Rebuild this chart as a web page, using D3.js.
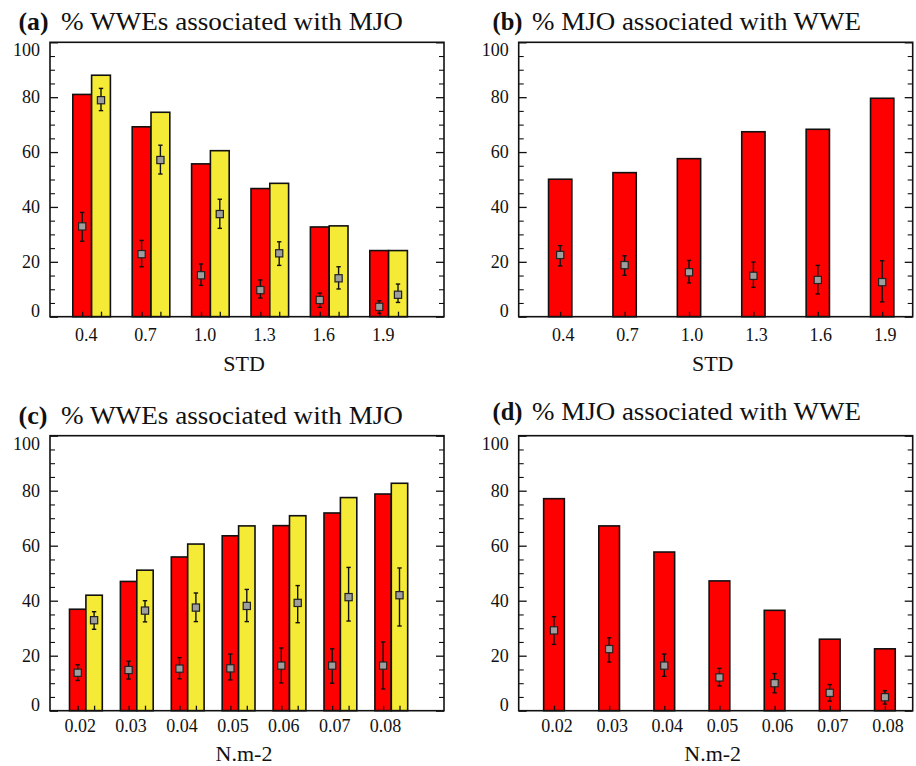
<!DOCTYPE html>
<html>
<head>
<meta charset="utf-8">
<script src="https://cdn.jsdelivr.net/npm/d3@7"></script>
<style>
  html, body { margin: 0; padding: 0; background: #fff; }
  svg { display: block; }
  svg text { font-family: 'Liberation Serif', 'Times New Roman', Times, serif; fill: #111; }
</style>
</head>
<body>
<svg id="chart" width="916" height="766"></svg>
<script>
// ---------------- DATA ----------------
const stdCats  = ["0.4", "0.7", "1.0", "1.3", "1.6", "1.9"];
const windCats = ["0.02", "0.03", "0.04", "0.05", "0.06", "0.07", "0.08"];
const yTickValues = [0, 20, 40, 60, 80, 100];

// (a) % WWEs associated with MJO vs STD
const aRed     = [81.0, 69.2, 55.7, 46.7, 32.7, 24.1];
const aYellow  = [88.0, 74.5, 60.5, 48.6, 33.1, 24.1];
const aRedMean = [32.9, 22.8, 15.1, 9.7, 6.1, 3.6];
const aRedLo   = [27.5, 18.2, 11.4, 6.8, 3.4, 1.2];
const aRedHi   = [38.0, 27.8, 19.2, 13.4, 8.6, 5.8];
const aYelMean = [78.9, 57.1, 37.4, 23.1, 14.0, 8.0];
const aYelLo   = [75.1, 52.0, 32.2, 18.7, 10.1, 5.2];
const aYelHi   = [83.2, 62.5, 42.8, 27.3, 18.2, 11.9];

// (b) % MJO associated with WWE vs STD
const bRed  = [50.1, 52.5, 57.6, 67.4, 68.3, 79.6];
const bMean = [22.5, 18.8, 16.2, 14.9, 13.4, 12.6];
const bLo   = [18.5, 15.1, 12.3, 10.7, 8.3, 5.4];
const bHi   = [25.9, 22.2, 20.5, 19.9, 18.7, 20.4];

// (c) % WWEs associated with MJO vs wind stress
const cRed     = [36.9, 47.0, 55.9, 63.6, 67.3, 71.9, 78.8];
const cYellow  = [42.0, 51.1, 60.6, 67.2, 70.9, 77.5, 82.7];
const cRedMean = [13.8, 14.8, 15.3, 15.4, 16.4, 16.4, 16.4];
const cRedLo   = [11.0, 11.5, 11.6, 11.2, 10.1, 10.0, 7.9];
const cRedHi   = [16.7, 18.0, 19.3, 20.6, 22.8, 22.5, 25.0];
const cYelMean = [32.9, 36.4, 37.5, 38.1, 39.2, 41.3, 42.0];
const cYelLo   = [29.6, 32.3, 32.4, 32.4, 32.0, 32.6, 30.8];
const cYelHi   = [36.0, 40.0, 42.8, 44.1, 45.5, 52.1, 51.9];

// (d) % MJO associated with WWE vs wind stress
const dRed  = [77.1, 67.2, 57.7, 47.2, 36.5, 26.0, 22.5];
const dMean = [29.2, 22.4, 16.4, 12.1, 10.0, 6.5, 4.9];
const dLo   = [24.1, 17.7, 12.5, 9.0, 6.5, 3.5, 2.4];
const dHi   = [34.2, 26.5, 20.6, 15.4, 13.5, 9.5, 7.3];

const RED = "#ff0000", YELLOW = "#f5ea35", MARK = "#9e9e9e";
const FONT = "'Liberation Serif', 'Times New Roman', Times, serif";

// ---------------- PANELS ----------------
const panels = [
  { tag: "(a)", title: "% WWEs associated with MJO", xlabel: "STD", cats: stdCats,
    series: [
      { vals: aRed, mean: aRedMean, lo: aRedLo, hi: aRedHi, color: RED },
      { vals: aYellow, mean: aYelMean, lo: aYelLo, hi: aYelHi, color: YELLOW } ],
    x0: 50, x1: 444, yT: 42.3, yB: 316.7, first: 82.2, step: 59.4, barW: 18.8, lblOff: 4,
    tagX: 18.5, tagW: 30, titleX: 61, titleW: 342, titleY: 30, tickLblDy: 24.5, axLblDy: 54.5 },
  { tag: "(b)", title: "% MJO associated with WWE", xlabel: "STD", cats: stdCats,
    series: [ { vals: bRed, mean: bMean, lo: bLo, hi: bHi, color: RED } ],
    x0: 518.7, x1: 912.7, yT: 42.3, yB: 316.7, first: 560.2, step: 64.4, barW: 23.3, lblOff: 3,
    tagX: 492.5, tagW: 30, titleX: 532, titleW: 329, titleY: 30, tickLblDy: 24.5, axLblDy: 54.5 },
  { tag: "(c)", title: "% WWEs associated with MJO", xlabel: "N.m-2", cats: windCats,
    series: [
      { vals: cRed, mean: cRedMean, lo: cRedLo, hi: cRedHi, color: RED },
      { vals: cYellow, mean: cYelMean, lo: cYelLo, hi: cYelHi, color: YELLOW } ],
    x0: 50, x1: 444, yT: 435.7, yB: 710.7, first: 77.7, step: 50.9, barW: 16.4, lblOff: 2.5,
    tagX: 18.5, tagW: 29, titleX: 61, titleW: 342, titleY: 424, tickLblDy: 21.5, axLblDy: 50.5 },
  { tag: "(d)", title: "% MJO associated with WWE", xlabel: "N.m-2", cats: windCats,
    series: [ { vals: dRed, mean: dMean, lo: dLo, hi: dHi, color: RED } ],
    x0: 518.7, x1: 912.7, yT: 435.7, yB: 710.7, first: 554, step: 55.15, barW: 20.7, lblOff: 3,
    tagX: 492.5, tagW: 30, titleX: 532, titleW: 329, titleY: 420, tickLblDy: 21.5, axLblDy: 50.5 }
];

const svg = d3.select("#chart").attr("font-family", FONT);

panels.forEach(p => {
  const g = svg.append("g");
  const n = p.cats.length;
  const x = d3.scaleLinear()
    .domain([(p.x0 - p.first) / p.step, (p.x1 - p.first) / p.step])
    .range([p.x0, p.x1]);
  const y = d3.scaleLinear().domain([0, 100]).range([p.yB, p.yT]);
  const off = p.barW / p.step; // offset between paired bars in index units
  const idx = d3.range(n);

  // bars
  p.series.forEach((s, k) => {
    g.selectAll(null).data(idx).join("rect")
      .attr("x", i => x(i + k * off) - p.barW / 2)
      .attr("y", i => y(s.vals[i]))
      .attr("width", p.barW)
      .attr("height", i => y(0) - y(s.vals[i]))
      .attr("fill", s.color)
      .attr("stroke", "#111")
      .attr("stroke-width", 1.6);
  });

  // y axis ticks (left + right), inward
  const yMinor = d3.range(0, 101, 5).filter(v => v % 20 !== 0);
  const gl = g.append("g").attr("transform", `translate(${p.x0},0)`)
    .call(d3.axisLeft(y).tickValues(yTickValues).tickSize(-8).tickPadding(10));
  gl.attr("font-family", FONT);
  gl.select(".domain").remove();
  gl.selectAll("line").attr("stroke", "#111").attr("stroke-width", 1.3);
  gl.selectAll("text").attr("font-size", 18).attr("fill", "#111")
    .attr("font-family", FONT)
    .attr("dy", d => d === 0 ? "-0.02em" : d === 100 ? "0.75em" : "0.32em");

  const glm = g.append("g").attr("transform", `translate(${p.x0},0)`)
    .call(d3.axisLeft(y).tickValues(yMinor).tickSize(-5).tickFormat(""));
  glm.select(".domain").remove();
  glm.selectAll("line").attr("stroke", "#111").attr("stroke-width", 1.1);

  const gr = g.append("g").attr("transform", `translate(${p.x1},0)`)
    .call(d3.axisRight(y).tickValues(yTickValues).tickSize(-8).tickFormat(""));
  gr.select(".domain").remove();
  gr.selectAll("line").attr("stroke", "#111").attr("stroke-width", 1.3);
  const grm = g.append("g").attr("transform", `translate(${p.x1},0)`)
    .call(d3.axisRight(y).tickValues(yMinor).tickSize(-5).tickFormat(""));
  grm.select(".domain").remove();
  grm.selectAll("line").attr("stroke", "#111").attr("stroke-width", 1.1);

  // bottom ticks at bar centres
  const tickPos = [];
  p.series.forEach((s, k) => idx.forEach(i => tickPos.push(i + k * off)));
  const gb = g.append("g").attr("transform", `translate(0,${p.yB})`)
    .call(d3.axisBottom(x).tickValues(tickPos).tickSize(-5).tickFormat(""));
  gb.select(".domain").remove();
  gb.selectAll("line").attr("stroke", "#111").attr("stroke-width", 1.3);

  // x category labels
  g.selectAll(null).data(idx).join("text")
    .attr("x", i => x(i) + p.lblOff)
    .attr("y", p.yB + p.tickLblDy)
    .attr("text-anchor", "middle")
    .attr("font-family", FONT)
    .attr("font-size", 18)
    .text(i => p.cats[i]);

  // error bars + markers
  p.series.forEach((s, k) => {
    const eg = g.append("g");
    idx.forEach(i => {
      const cx = x(i + k * off);
      eg.append("line").attr("x1", cx).attr("x2", cx)
        .attr("y1", y(s.lo[i])).attr("y2", y(s.hi[i]))
        .attr("stroke", "#111").attr("stroke-width", 1.4);
      [s.lo[i], s.hi[i]].forEach(v => {
        eg.append("line").attr("x1", cx - 2.2).attr("x2", cx + 2.2)
          .attr("y1", y(v)).attr("y2", y(v))
          .attr("stroke", "#111").attr("stroke-width", 1.4);
      });
      eg.append("rect").attr("x", cx - 3.6).attr("y", y(s.mean[i]) - 3.6)
        .attr("width", 7.2).attr("height", 7.2)
        .attr("fill", MARK).attr("stroke", "#222").attr("stroke-width", 1.2);
    });
  });

  // frame
  g.append("rect").attr("x", p.x0).attr("y", p.yT)
    .attr("width", p.x1 - p.x0).attr("height", p.yB - p.yT)
    .attr("fill", "none").attr("stroke", "#111").attr("stroke-width", 1.6);

  // x axis title
  g.append("text")
    .attr("x", (p.x0 + p.x1) / 2 - 3)
    .attr("y", p.yB + p.axLblDy)
    .attr("text-anchor", "middle")
    .attr("font-family", FONT)
    .attr("font-size", 22)
    .text(p.xlabel);

  // panel title
  g.append("text")
    .attr("x", p.tagX).attr("y", p.titleY)
    .attr("font-family", FONT)
    .attr("font-size", 25).attr("font-weight", "bold")
    .attr("textLength", p.tagW).attr("lengthAdjust", "spacingAndGlyphs")
    .text(p.tag);
  g.append("text")
    .attr("x", p.titleX).attr("y", p.titleY)
    .attr("font-family", FONT)
    .attr("font-size", 26)
    .attr("textLength", p.titleW).attr("lengthAdjust", "spacingAndGlyphs")
    .text(p.title);
});
</script>
</body>
</html>
